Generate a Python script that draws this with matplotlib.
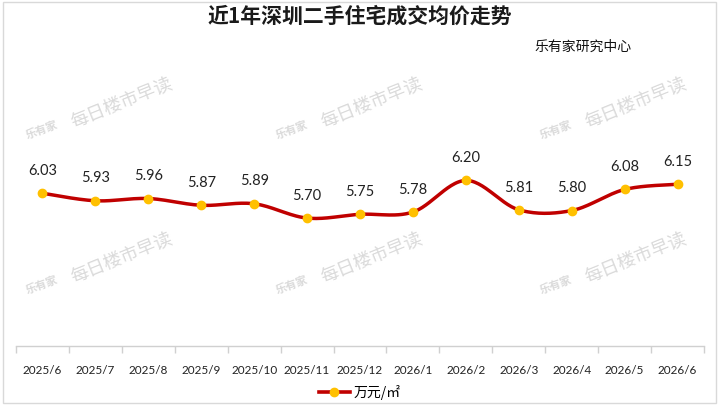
import numpy as np
import matplotlib
matplotlib.use("Agg")
import matplotlib.pyplot as plt
from matplotlib.lines import Line2D
from matplotlib.patches import Rectangle

plt.rcParams['font.family'] = ['Noto Sans CJK SC', 'DejaVu Sans']

months = ["2025/6", "2025/7", "2025/8", "2025/9", "2025/10", "2025/11", "2025/12",
          "2026/1", "2026/2", "2026/3", "2026/4", "2026/5", "2026/6"]
prices = [6.03, 5.93, 5.96, 5.87, 5.89, 5.70, 5.75, 5.78, 6.20, 5.81, 5.80, 6.08, 6.15]
title = "近1年深圳二手住宅成交均价走势"
source = "乐有家研究中心"
legend_label = "万元/㎡"

LINE_C = "#C00000"
MARK_C = "#FFC000"

fig = plt.figure(figsize=(7.2, 4.05), dpi=100)
W, H = 720, 405
ax = fig.add_axes([16 / W, (H - 346) / H, (704 - 16) / W, (346 - 45) / H])

x = np.arange(len(prices))
y = np.array(prices)

# Smooth curve (Catmull-Rom through the data points, like Excel's smoothed line)
def catmull(xp, yp, n=30):
    P = np.column_stack([xp, yp]).astype(float)
    P = np.vstack([P[0], P, P[-1]])
    out = []
    for i in range(1, len(P) - 2):
        p0, p1, p2, p3 = P[i - 1], P[i], P[i + 1], P[i + 2]
        c1 = p1 + (p2 - p0) / 6
        c2 = p2 - (p3 - p1) / 6
        t = np.linspace(0, 1, n)[:, None]
        seg = (1 - t) ** 3 * p1 + 3 * (1 - t) ** 2 * t * c1 + 3 * (1 - t) * t ** 2 * c2 + t ** 3 * p2
        out.append(seg if i == 1 else seg[1:])
    return np.vstack(out)

curve = catmull(x, y)
ax.plot(curve[:, 0], curve[:, 1], color=LINE_C, lw=2.5, solid_capstyle='round', zorder=3)
ax.plot(x, y, 'o', color=MARK_C, ms=6, mec=MARK_C, zorder=4)

for xi, yi in zip(x, y):
    ax.annotate(f"{yi:.2f}", (xi, yi), xytext=(0, 11), textcoords='offset points',
                ha='center', va='bottom', fontsize=10.5, family=['Lato', 'DejaVu Sans'],
                color='#222222')

ax.set_xlim(-0.5, len(prices) - 0.5)
ax.set_ylim(4.0, 8.0)
ax.set_yticks([])
for s in ['top', 'right', 'left']:
    ax.spines[s].set_visible(False)
ax.spines['bottom'].set_color('#d0d0d0')
ax.spines['bottom'].set_linewidth(1.0)
ax.set_xticks(np.arange(-0.5, len(prices), 1.0), minor=False)
ax.set_xticklabels([])
ax.tick_params(axis='x', which='major', length=5, color='#d0d0d0', width=1)
ax.set_xticks(x, minor=True)
ax.set_xticklabels(months, minor=True)
ax.tick_params(axis='x', which='minor', length=0, pad=14, labelsize=8.5, labelcolor='#222222')
for lab in ax.get_xticklabels(minor=True):
    lab.set_family(['Lato', 'DejaVu Sans'])

# Title and source
fig.text(0.5, 1 - 16 / H, title, ha='center', va='center', fontsize=15, fontweight='bold', color='#1a1a1a')
fig.text(583 / W, 1 - 47 / H, source, ha='center', va='center', fontsize=10, color='#111111')

# Legend
handle = Line2D([0], [0], color=LINE_C, lw=2.6, marker='o', ms=6, mfc=MARK_C, mec=MARK_C)
fig.legend([handle], [legend_label], loc='center', bbox_to_anchor=(0.5, 1 - 392 / H),
           frameon=False, fontsize=10, handlelength=2.2, handletextpad=0.3)

# Watermarks
wm_c = '#dadada'
for wx, wy in [(42, 130), (292, 130), (556, 130), (42, 285), (292, 285), (556, 285)]:
    fig.text(wx / W, 1 - wy / H, "乐有家", fontsize=8, color=wm_c, rotation=20,
             ha='center', va='center', fontweight='bold')
    fig.text((wx + 30) / W, 1 - (wy - 6) / H, "每日楼市早读", fontsize=13, color=wm_c,
             rotation=22, ha='left', va='center', rotation_mode='anchor')

# Frame
fig.patches.append(Rectangle((3 / W, 2 / H), 713 / W, 401 / H, transform=fig.transFigure,
                             fill=False, ec='#d9d9d9', lw=1))

fig.savefig("out.png", dpi=100)
